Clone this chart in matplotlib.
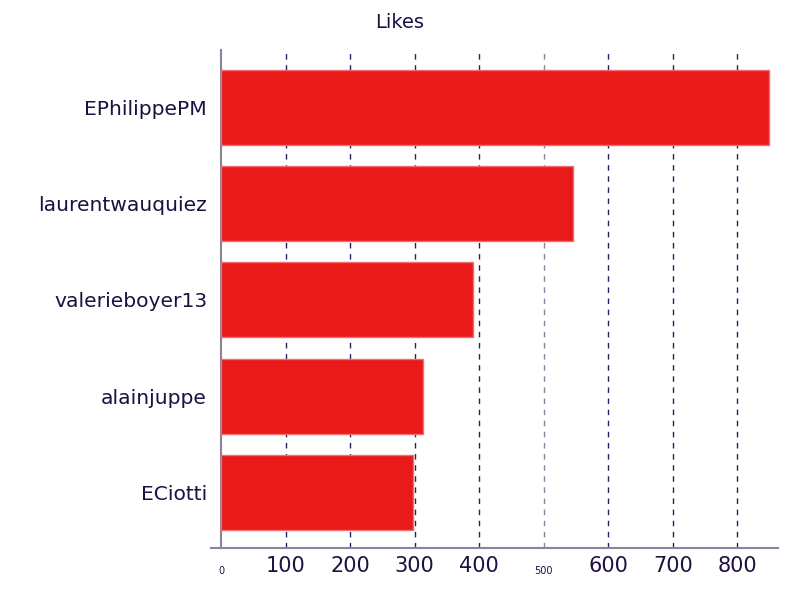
import matplotlib
matplotlib.use("Agg")
import matplotlib.pyplot as plt

names = ["EPhilippePM", "laurentwauquiez", "valerieboyer13", "alainjuppe", "ECiotti"]
likes = [849, 545, 391, 313, 297]
xticks = [0, 100, 200, 300, 400, 500, 600, 700, 800]
xticklabels = ["0", "100", "200", "300", "400", "500", "600", "700", "800"]

text_c = "#1e1040"
spine_c = "#8c82a0"

fig = plt.figure(figsize=(8, 6), dpi=100)
ax = fig.add_axes([0.26375, 0.0867, 0.70875, 0.83])

ypos = list(range(len(names)))
ax.barh(ypos, likes, height=0.78, color="#e81a1a", edgecolor="#f07070", linewidth=1.0, zorder=3)
ax.set_ylim(4.58, -0.6)
ax.set_xlim(-15.5, 863)
ax.set_yticks(ypos)
ax.set_yticklabels(names)
ax.set_xticks(xticks)
ax.set_xticklabels(xticklabels)
ax.tick_params(length=0, labelcolor=text_c)
ax.tick_params(axis="y", pad=10, labelsize=14.6)
ax.tick_params(axis="x", pad=6, labelsize=15)
for tick, t in zip(ax.xaxis.get_major_ticks(), xticks):
    if t in (0, 500):
        tick.label1.set_fontsize(7)
        tick.set_pad(13)

for t in xticks[1:]:
    c = "#8c82a0" if t == 500 else "#2a2060"
    ax.axvline(t, color=c, linestyle=(0, (4, 4)), linewidth=1.0, zorder=1)

ax.spines["top"].set_visible(False)
ax.spines["right"].set_visible(False)
ax.spines["left"].set_position(("data", 0))
ax.spines["left"].set_color(spine_c)
ax.spines["bottom"].set_color(spine_c)
ax.spines["left"].set_linewidth(1.5)
ax.spines["bottom"].set_linewidth(1.5)

fig.text(0.5, 1 - 22 / 600, "Likes", fontsize=14, color=text_c, ha="center", va="center")

fig.savefig("out.png", dpi=100)
